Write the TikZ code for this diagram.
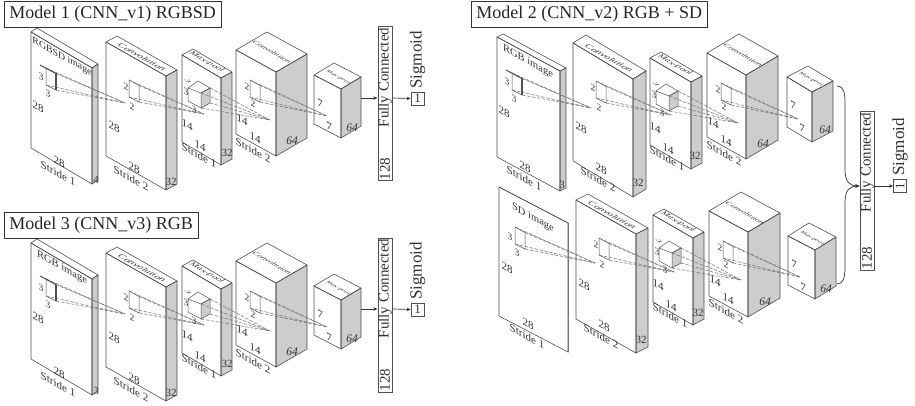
\documentclass[tikz,border=0pt]{standalone}
\usepackage{xcolor}
\usepackage{fontspec}
\setmainfont{Liberation Serif}
\usepackage{tikz}
\usetikzlibrary{arrows.meta,positioning,calc}
\definecolor{edgegray}{RGB}{80,80,80}
\definecolor{sidegray}{RGB}{205,205,205}
\definecolor{textgray}{RGB}{50,50,50}
\definecolor{dashgray}{RGB}{120,120,120}

\tikzset{
  blockedge/.style={draw=edgegray, line width=0.6pt, line join=round},
  blockside/.style={blockedge, fill=sidegray},
  kernelline/.style={draw=dashgray, line width=0.55pt, dash pattern=on 3.5pt off 1.5pt},
  kernelbox/.style={draw=edgegray, line width=0.5pt},
  dimtext/.style={yslant=-0.55, inner sep=0pt, text=textgray, font=\fontsize{11}{12}\selectfont},
  depthtext/.style={dimtext, yslant=0.55, font=\fontsize{11}{12}\selectfont},
  deeptext/.style={dimtext, yslant=0.55, font=\itshape\fontsize{11.5}{12}\selectfont},
  stridetext/.style={dimtext, font=\fontsize{11}{12}\selectfont},
  imagetext/.style={dimtext, font=\fontsize{10.5}{11}\selectfont},
  smalldim/.style={dimtext, font=\fontsize{9.5}{10}\selectfont},
  toptext/.style={cm={0.88,-0.5,0.55,0.42,(0,0)}, inner sep=0pt, text=textgray,
    font=\itshape\fontsize{10.5}{11}\selectfont},
  titlebox/.style={draw=black!80, line width=0.7pt, inner xsep=5pt, inner ysep=0pt,
    minimum height=26pt, anchor=north west, text=black!85, font=\fontsize{18}{20}\selectfont},
  fcbar/.style={draw=edgegray, line width=1pt, minimum width=14pt, inner sep=0pt},
  fctext/.style={rotate=90, inner sep=1pt, text=textgray, font=\fontsize{15}{16}\selectfont},
  sigtext/.style={fctext, font=\fontsize{17}{18}\selectfont},
  outbox/.style={draw=edgegray, line width=0.8pt, minimum size=13pt, inner sep=0pt,
    text=textgray, font=\fontsize{13}{14}\selectfont},
  flowarrow/.style={draw=black!80, line width=0.7pt, -{Stealth[length=4pt,width=3.5pt]}},
}

% x y wx wy h dx dy, all in reference pixels
\newcommand{\cubeface}[5]{
  \path[blockside] (#1,#2) -- ++(0,#3) -- ++(#4,#5) -- ++(0,-#3) -- cycle;
  \path[blockedge] (0,0) -- ++(#1,#2) -- ++(0,#3) -- ++(-#1,-#2) -- cycle;
  \path[blockedge] (0,0) -- ++(#4,#5) -- ++(#1,#2) -- ++(-#4,-#5) -- cycle;
}
% name, x, y of upper left corner of kernel, apex x, apex y
\newcommand{\kernelrect}[5]{
  \coordinate (#1-ka) at (#2,#3);
  \coordinate (#1-kb) at ($(#2,#3)+(10,5.5)$);
  \coordinate (#1-kc) at ($(#2,#3)+(10,22)$);
  \coordinate (#1-kd) at ($(#2,#3)+(0,17)$);
  \coordinate (#1-apex) at (#4,#5);
  \draw[kernelbox] (#1-ka) -- (#1-kb) -- (#1-kc) -- (#1-kd) -- cycle;
  \foreach \c in {ka,kb,kc,kd}{
    \draw[kernelline] (#1-\c) -- (#1-apex);
  }
}

% name, x, y, {wx}{wy}{h}{dx}{dy}, image text, depth
\newcommand{\inputblock}[6]{
  \begin{scope}[shift={(#2,#3)}]
    \cubeface#4
    \kernelrect{#1}{15}{36}{94}{71}
    \draw[edgegray, line width=1.4pt] (#1-kb) -- (#1-kc);
    \coordinate (#1-curl) at (9,33);
    \draw[edgegray, line width=1pt] (#1-curl) -- (#1-kb);
    \node[imagetext] (#1-title) at (31,25) {#5};
    \node[smalldim] (#1-ka-l) at (10,45) {3};
    \node[smalldim] (#1-kb-l) at (17,62) {3};
    \node[dimtext] (#1-h) at (7,75) {28};
    \node[dimtext] (#1-w) at (28,130) {28};
    \node[stridetext] (#1-s) at (27,141) {Stride 1};
    \node[depthtext] (#1-d) at (65,148) {#6};
  \end{scope}
}
\newcommand{\convblock}[4]{
  \begin{scope}[shift={(#2,#3)}]
    \cubeface#4
    \kernelrect{#1}{23}{38}{98}{72}
    \node[toptext] (#1-title) at (36,15) {Convolution};
    \node[smalldim] (#1-ka-l) at (20,45) {2};
    \node[smalldim] (#1-kb-l) at (26,65) {2};
    \node[dimtext] (#1-h) at (8,85) {28};
    \node[dimtext] (#1-w) at (28,126) {28};
    \node[stridetext] (#1-s) at (25,136) {Stride 2};
    \node[depthtext] (#1-d) at (65,140) {32};
  \end{scope}
}
\newcommand{\poolblock}[4]{
  \begin{scope}[shift={(#2,#3)}]
    \cubeface#4
    \coordinate (#1-ca) at (6,33);
    \coordinate (#1-cb) at (16,26);
    \coordinate (#1-cc) at (28,33);
    \coordinate (#1-cd) at (19,38);
    \coordinate (#1-ce) at (28,48);
    \coordinate (#1-cf) at (19,53);
    \coordinate (#1-cg) at (6,46);
    \coordinate (#1-apex) at (88,65);
    \draw[kernelbox, fill=sidegray] (#1-cd) -- (#1-cc) -- (#1-ce) -- (#1-cf) -- cycle;
    \draw[kernelbox] (#1-ca) -- (#1-cb) -- (#1-cc) -- (#1-cd) -- cycle
      (#1-ca) -- (#1-cg) -- (#1-cf);
    \foreach \c in {cc,cd,ce,cf}{
      \draw[kernelline] (#1-\c) -- (#1-apex);
    }
    \node[toptext, font=\itshape\fontsize{9.5}{10}\selectfont] (#1-title) at (25,7) {Max-pool};
    \node[smalldim, cm={0.7,-0.4,0.7,0.4,(0,0)}] (#1-t-l) at (6,26) {3};
    \node[smalldim] (#1-ka-l) at (4,37) {3};
    \node[smalldim] (#1-kb-l) at (12,55) {3};
    \node[dimtext] (#1-h) at (5,70) {14};
    \node[dimtext] (#1-w) at (18,91) {14};
    \node[stridetext] (#1-s) at (17,100) {Stride 1};
    \node[depthtext] (#1-d) at (45,98) {32};
  \end{scope}
}
\newcommand{\deepblock}[4]{
  \begin{scope}[shift={(#2,#3)}]
    \cubeface#4
    \kernelrect{#1}{14}{30}{91}{66}
    \node[toptext, font=\itshape\fontsize{8.5}{9}\selectfont] (#1-title) at (36,2) {Convolution};
    \node[smalldim] (#1-ka-l) at (11,37) {2};
    \node[smalldim] (#1-kb-l) at (17,54) {2};
    \node[dimtext] (#1-h) at (6,70) {14};
    \node[dimtext] (#1-w) at (19,88) {14};
    \node[stridetext] (#1-s) at (17,100) {Stride 2};
    \node[deeptext] (#1-d) at (56,91) {64};
  \end{scope}
}
\newcommand{\lastblock}[4]{
  \begin{scope}[shift={(#2,#3)}]
    \cubeface#4
    \node[toptext, font=\itshape\fontsize{6.5}{7}\selectfont] (#1-title) at (24,2) {Max-pool};
    \node[dimtext] (#1-ka-l) at (6,28) {7};
    \node[dimtext] (#1-kb-l) at (15,51) {7};
    \node[deeptext] (#1-d) at (38,53) {64};
    \coordinate (#1-out) at (47,23);
  \end{scope}
}
% one row of models 1 and 3: name, y offset, image text, depth
\newcommand{\leftrow}[4]{
  \inputblock{#1a}{31}{32+#2}{{61}{36}{116}{6}{-4}}{#3}{#4}
  \convblock{#1b}{106}{42+#2}{{60}{34}{114}{11}{-6}}
  \poolblock{#1c}{182}{55+#2}{{39}{23}{87}{11}{-6}}
  \deepblock{#1d}{236}{50+#2}{{40}{22}{84}{31}{-18}}
  \lastblock{#1e}{314}{75+#2}{{27}{14}{49}{20}{-12}}
  \node[fcbar, minimum height=154pt] (#1-fc) at (385,104+#2) {};
  \node[fctext, anchor=east] (#1-fc-t) at (#1-fc.north) {Fully Connected};
  \node[fctext, anchor=west] (#1-fc-n) at (#1-fc.south) {128};
  \node[outbox] (#1-out) at (417.5,98.5+#2) {1};
  \node[sigtext, anchor=west] (#1-sig) at (417.5,90+#2) {Sigmoid};
  \draw[flowarrow] (#1e-out) -- (#1e-out -| #1-fc.west);
  \draw[flowarrow] (#1e-out -| #1-fc.east) -- (#1-out.west);
}

\begin{document}
\begin{tikzpicture}[x=1pt, y=-1pt]
  \useasboundingbox (0,0) rectangle (915,406);

  \node[titlebox] (title1) at (4,1) {Model 1 (CNN\_v1) RGBSD};
  \node[titlebox] (title3) at (4,212) {Model 3 (CNN\_v3) RGB};
  \node[titlebox] (title2) at (471,1) {Model 2 (CNN\_v2) RGB + SD};

  \leftrow{one}{0}{\fontsize{9.8}{10}\selectfont RGBSD image}{4}
  \leftrow{three}{211}{RGB image}{3}

  % model 2, upper stream
  \inputblock{upa}{497}{37}{{63}{34}{120}{6}{-3}}{RGB image}{3}
  \convblock{upb}{573}{43}{{60}{36}{118}{13}{-8}}
  \poolblock{upc}{650}{58}{{41}{24}{87}{11}{-6}}
  \deepblock{upd}{707}{53}{{39}{22}{84}{32}{-19}}
  \lastblock{upe}{787}{77}{{25}{15}{50}{21}{-11}}

  % model 2, lower stream
  \begin{scope}[shift={(499,187)}]
    \cubeface{69}{36}{129}{0}{0}
    \kernelrect{lowa}{16}{40}{96}{76}
    \node[imagetext] (lowa-title) at (34,31) {SD image};
    \node[smalldim] (lowa-ka-l) at (11,50) {3};
    \node[smalldim] (lowa-kb-l) at (18,66) {3};
    \node[dimtext] (lowa-h) at (8,81) {28};
    \node[dimtext] (lowa-w) at (29,137) {28};
    \node[stridetext] (lowa-s) at (28,149) {Stride 1};
  \end{scope}
  \convblock{lowb}{576}{200}{{60}{34}{119}{12}{-6}}
  \poolblock{lowc}{653}{215}{{40}{23}{87}{11}{-6}}
  \deepblock{lowd}{709}{211}{{39}{21}{85}{32}{-19}}
  \lastblock{lowe}{788}{236}{{27}{14}{49}{21}{-13}}

  \node[fcbar, minimum height=158pt] (two-fc) at (867,191) {};
  \node[fctext, anchor=east] (two-fc-t) at (two-fc.north) {Fully Connected};
  \node[fctext, anchor=west] (two-fc-n) at (two-fc.south) {128};
  \node[outbox] (two-out) at (900,186) {\rotatebox{90}{1}};
  \node[sigtext, anchor=west] (two-sig) at (900,177) {Sigmoid};
  \coordinate (two-join) at (two-fc.west |- two-out);
  \coordinate (upe-brace) at (837,86);
  \coordinate (lowe-brace) at (837,284);
  \draw[flowarrow] (upe-brace) .. controls (843,86) and (845,92) .. (845,102) -- (845,170)
    .. controls (845,182) and (850,186) .. (two-join);
  \draw[flowarrow] (lowe-brace) .. controls (843,284) and (845,278) .. (845,268) -- (845,202)
    .. controls (845,190) and (850,186) .. (two-join);
  \draw[flowarrow] (two-fc.east |- two-out) -- (two-out.west);
\end{tikzpicture}
\end{document}
